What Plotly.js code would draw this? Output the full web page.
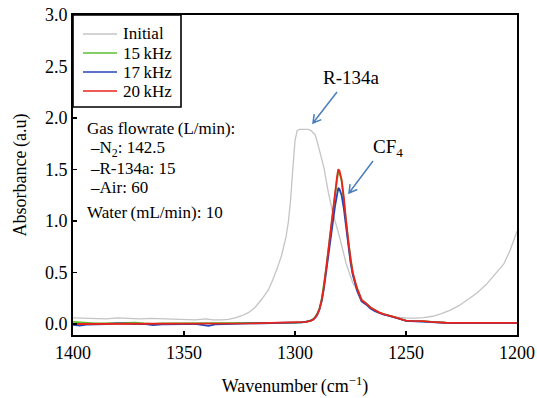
<!DOCTYPE html>
<html>
<head>
<meta charset="utf-8">
<script src="https://cdn.plot.ly/plotly-3.0.1.min.js"></script>
<style>html,body{margin:0;padding:0;background:#fff;}#chart{width:537px;height:398px;}</style>
</head>
<body>
<div id="chart"></div>
<script>
// ---- data ----
const seriesNames = ["Initial", "15\u2009kHz", "17\u2009kHz", "20\u2009kHz"];
const seriesColors = ["#c4c4c4", "#5cc030", "#2445b8", "#e8241c"];

const waveInitial = [1400,1395,1390,1385,1380,1375,1370,1365,1360,1355,1350,1345,1340,1337,1333,1330,1327,1324,1321,1318,1315,1312,1310,1308,1306,1304,1303,1302,1301,1300,1299,1298,1296,1294,1293,1291,1290,1288.5,1287,1285,1283,1280,1277,1274,1270,1266,1263,1259,1255,1250,1246,1242,1238,1234,1230,1226,1222,1218,1214,1210,1206,1203,1201,1200];
const absInitial = [0.06,0.055,0.05,0.05,0.06,0.055,0.05,0.055,0.05,0.045,0.04,0.04,0.05,0.04,0.04,0.045,0.06,0.08,0.11,0.16,0.24,0.33,0.43,0.54,0.67,0.85,0.99,1.2,1.5,1.78,1.88,1.89,1.89,1.89,1.88,1.84,1.77,1.64,1.52,1.28,1.08,0.85,0.59,0.40,0.25,0.16,0.12,0.085,0.066,0.058,0.056,0.062,0.075,0.10,0.135,0.18,0.24,0.30,0.38,0.48,0.58,0.72,0.84,0.90];

const waveKHz = [1400,1397,1394,1390,1385,1380,1376,1372,1368,1364,1360,1355,1350,1345,1342,1339,1336,1332,1328,1324,1320,1315,1310,1305,1300,1297,1295,1293,1292,1291,1290,1289,1288,1287,1286,1285,1284,1283,1282,1281,1280.5,1280,1279,1278,1277,1276,1275,1274,1273,1272,1271,1270,1268,1266,1264,1262,1260,1258,1256,1254,1252,1250,1248,1245,1242,1239,1236,1232,1228,1224,1220,1215,1210,1205,1200];
const abs15kHz = [0.02,0.015,0.01,0.005,0.005,0.01,0.015,0.012,0.005,0.0,0.005,0.005,0.005,0.005,0.008,0.01,0.008,0.005,0.005,0.005,0.005,0.008,0.01,0.01,0.012,0.015,0.02,0.03,0.045,0.065,0.1,0.15,0.24,0.37,0.53,0.71,0.9,1.08,1.26,1.41,1.47,1.47,1.39,1.22,1.0,0.8,0.63,0.5,0.41,0.34,0.29,0.23,0.2,0.16,0.135,0.11,0.095,0.085,0.075,0.06,0.045,0.032,0.03,0.03,0.028,0.022,0.016,0.012,0.01,0.01,0.01,0.01,0.01,0.01,0.01];
const abs17kHz = [-0.008,-0.015,-0.005,0.0,0.0,0.005,0.0,0.0,0.0,-0.01,-0.004,0.0,0.0,0.0,-0.006,-0.018,-0.004,0.0,0.0,0.003,0.005,0.007,0.008,0.01,0.012,0.015,0.02,0.03,0.04,0.06,0.09,0.14,0.22,0.34,0.5,0.67,0.84,0.99,1.14,1.26,1.32,1.31,1.25,1.12,0.94,0.76,0.6,0.48,0.39,0.32,0.27,0.22,0.19,0.15,0.125,0.105,0.09,0.08,0.07,0.058,0.044,0.031,0.028,0.028,0.026,0.02,0.015,0.011,0.009,0.008,0.008,0.008,0.008,0.008,0.008];
const abs20kHz = [0.0,0.0,0.005,0.005,0.0,0.005,0.005,0.005,0.0,0.0,0.005,0.005,0.005,0.0,0.0,0.0,0.005,0.005,0.005,0.005,0.005,0.008,0.01,0.01,0.012,0.015,0.02,0.03,0.04,0.06,0.09,0.14,0.23,0.36,0.52,0.71,0.9,1.09,1.28,1.44,1.5,1.49,1.4,1.23,1.0,0.8,0.63,0.5,0.41,0.34,0.29,0.23,0.2,0.16,0.135,0.11,0.095,0.085,0.075,0.06,0.045,0.032,0.03,0.03,0.028,0.02,0.015,0.012,0.01,0.01,0.01,0.01,0.01,0.01,0.01];

const xTicks = [1400,1350,1300,1250,1200];
const yTicks = [0.0,0.5,1.0,1.5,2.0,2.5,3.0];

// ---- build ----
const SERIF = "Liberation Serif, Times New Roman, serif";
const xs = [waveInitial, waveKHz, waveKHz, waveKHz];
const ys = [absInitial, abs15kHz, abs17kHz, abs20kHz];
const widths = [1.3, 1.8, 1.8, 1.8];
const traces = seriesNames.map((n, i) => ({
  type: "scatter", mode: "lines", name: n,
  x: xs[i], y: ys[i],
  line: {color: seriesColors[i], width: widths[i]}
}));

// pixel -> paper helpers for decorations (plot area 73..517 x 15..335)
const L = 73, R = 517, T = 15, B = 335;
const px = v => (v - L) / (R - L);
const py = v => (B - v) / (B - T);
function arrowPath(x0, y0, x1, y1, head) {
  const dx = x1 - x0, dy = y1 - y0, len = Math.hypot(dx, dy);
  const bx = -dx / len, by = -dy / len;
  const c = Math.cos(Math.PI / 6), s = Math.sin(Math.PI / 6);
  const a1 = [x1 + head * (c * bx - s * by), y1 + head * (s * bx + c * by)];
  const a2 = [x1 + head * (c * bx + s * by), y1 + head * (-s * bx + c * by)];
  const P = (p) => px(p[0]).toFixed(4) + "," + py(p[1]).toFixed(4);
  return "M" + P([x0, y0]) + " L" + P([x1, y1]) + " M" + P(a1) + " L" + P([x1, y1]) + " L" + P(a2);
}
const arrowColor = "#4a7ebb";
const shapes = [
  {type: "path", xref: "paper", yref: "paper", path: arrowPath(337, 92, 313, 123, 9), line: {color: arrowColor, width: 1.5}},
  {type: "path", xref: "paper", yref: "paper", path: arrowPath(373, 161, 349, 193, 9), line: {color: arrowColor, width: 1.5}},
  // legend box
  {type: "rect", xref: "paper", yref: "paper", x0: px(73), x1: px(181), y0: py(107), y1: py(15),
   fillcolor: "#fff", line: {color: "#000", width: 1.6}, layer: "above"}
];

const txt = (text, x, y, anchor, size) => ({
  text: text, xref: "paper", yref: "paper", x: px(x), y: py(y),
  xanchor: anchor, yanchor: "middle", showarrow: false, borderpad: 0,
  font: {family: SERIF, size: size, color: "#000"}
});
const annotations = [
  txt("R-134a", 351, 77, "center", 19),
  txt("CF<sub>4</sub>", 388, 148, "center", 19),
  txt("Gas flowrate\u2009(L/min):", 86, 128.5, "left", 17),
  txt("\u2013N<sub>2</sub>: 142.5", 89, 149, "left", 17),
  txt("\u2013R-134a: 15", 89, 168, "left", 17),
  txt("\u2013Air: 60", 89, 187, "left", 17),
  txt("Water\u2009(mL/min): 10", 86, 212, "left", 17)
];
// legend entries (manual, to match the reference's compact box)
const legendY = [34, 53, 72, 91];
seriesNames.forEach((n, i) => {
  shapes.push({type: "line", xref: "paper", yref: "paper",
    x0: px(83), x1: px(117), y0: py(legendY[i]), y1: py(legendY[i]),
    line: {color: seriesColors[i], width: 1.5}, layer: "above"});
  annotations.push(txt(n, 122, legendY[i], "left", 17));
});

const layout = {
  width: 537, height: 398,
  margin: {l: L, r: 537 - R, t: T, b: 398 - B},
  paper_bgcolor: "#fff", plot_bgcolor: "#fff",
  font: {family: SERIF, color: "#000", size: 17},
  showlegend: false,
  xaxis: {
    range: [1400, 1200], autorange: false,
    tickvals: xTicks, ticktext: xTicks.map(String),
    ticks: "inside", ticklen: 4, tickwidth: 1.2, tickcolor: "#000",
    showline: true, linewidth: 2, linecolor: "#000", mirror: true,
    showgrid: false, zeroline: false,
    tickfont: {family: SERIF, size: 18, color: "#000"},
    title: {text: "Wavenumber\u2009(cm<sup>\u22121</sup>)", font: {family: SERIF, size: 18, color: "#000"}, standoff: 18}
  },
  yaxis: {
    range: [-0.107, 3.0], autorange: false,
    tickvals: yTicks, ticktext: yTicks.map(v => v.toFixed(1)),
    ticks: "inside", ticklen: 4, tickwidth: 1.2, tickcolor: "#000",
    showline: true, linewidth: 2, linecolor: "#000", mirror: true,
    showgrid: false, zeroline: false,
    tickfont: {family: SERIF, size: 18, color: "#000"},
    title: {text: "Absorbance\u2009(a.u)", font: {family: SERIF, size: 18, color: "#000"}, standoff: 14}
  },
  shapes: shapes,
  annotations: annotations
};

Plotly.newPlot("chart", traces, layout, {displayModeBar: false, staticPlot: true});
</script>
</body>
</html>
